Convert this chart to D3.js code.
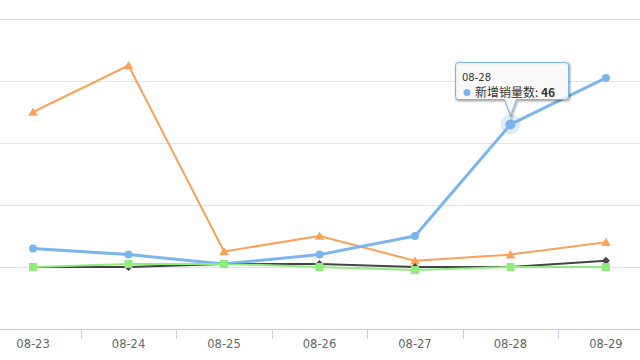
<!DOCTYPE html>
<html>
<head>
<meta charset="utf-8">
<script src="https://cdn.jsdelivr.net/npm/d3@7"></script>
<style>
  html, body { margin: 0; padding: 0; background: #fff; }
  svg { display: block; }
</style>
</head>
<body>
<svg width="640" height="360"></svg>
<script>
const categories = ['08-23', '08-24', '08-25', '08-26', '08-27', '08-28', '08-29'];
const yTicks = [-20, 0, 20, 40, 60, 80];

const seriesNames = ['新增销量数', '系列2', '系列3', '系列4'];
const seriesColors = ['#7cb5ec', '#434348', '#90ed7d', '#f7a35c'];
const blueValues = [6, 4, 1, 4, 10, 46, 61];
const blackValues = [0, 0, 1, 1, 0, 0, 2];
const greenValues = [0, 1, 1, 0, -1, 0, 0];
const orangeValues = [50, 65, 5, 10, 2, 4, 8];

const hoverIndex = 5; // 08-28 on the first series

// highcharts style diamond: square turned 45deg
const squareDiamond = {
  draw(ctx, size) {
    const h = Math.sqrt(size / 2);
    ctx.moveTo(0, -h); ctx.lineTo(h, 0); ctx.lineTo(0, h); ctx.lineTo(-h, 0); ctx.closePath();
  }
};
const seriesSymbols = [d3.symbolCircle, squareDiamond, d3.symbolSquare, d3.symbolTriangle];

const svg = d3.select('svg');

const x = d3.scaleBand().domain(categories).range([-14.7, 653.7]);
const y = d3.scaleLinear().domain([-20, 80]).range([329, 19]);
const cx = c => x(c) + x.bandwidth() / 2;

// grid
svg.append('g').selectAll('line')
  .data(yTicks)
  .enter().append('line')
  .attr('x1', 0).attr('x2', 640)
  .attr('y1', d => Math.round(y(d)) + 0.5)
  .attr('y2', d => Math.round(y(d)) + 0.5)
  .attr('stroke', '#e3e3e3')
  .attr('stroke-width', 1);

// x axis
const xAxis = svg.append('g').attr('transform', 'translate(0,329.5)');
xAxis.append('line')
  .attr('x1', 0).attr('x2', 640)
  .attr('stroke', '#c0d0e0');
xAxis.selectAll('.tick')
  .data(categories.slice(1))
  .enter().append('line')
  .attr('x1', d => Math.round(x(d)) + 0.5)
  .attr('x2', d => Math.round(x(d)) + 0.5)
  .attr('y1', 0).attr('y2', 9)
  .attr('stroke', '#c0d0e0');
xAxis.selectAll('text')
  .data(categories)
  .enter().append('text')
  .attr('x', d => cx(d))
  .attr('y', 18)
  .attr('text-anchor', 'middle')
  .attr('font-family', 'DejaVu Sans, sans-serif')
  .attr('font-size', '11.5px')
  .attr('fill', '#666')
  .text(d => d);

// series
const allSeries = [blueValues, blackValues, greenValues, orangeValues];
const line = d3.line()
  .x((d, i) => cx(categories[i]))
  .y(d => y(d));

const drawOrder = [3, 0, 1, 2];
const sizes = [50, 32, 64, 40];
drawOrder.forEach(s => {
  const g = svg.append('g');
  g.append('path')
    .datum(allSeries[s])
    .attr('d', line)
    .attr('fill', 'none')
    .attr('stroke', seriesColors[s])
    .attr('stroke-width', s === 0 ? 3 : 2)
    .attr('stroke-linejoin', 'round');
  if (s === 0) {
    g.append('circle')
      .attr('cx', cx(categories[hoverIndex]))
      .attr('cy', y(allSeries[0][hoverIndex]))
      .attr('r', 10)
      .attr('fill', seriesColors[0])
      .attr('opacity', 0.25);
  }
  g.selectAll('path.m')
    .data(allSeries[s])
    .enter().append('path')
    .attr('class', 'm')
    .attr('transform', (d, i) => `translate(${cx(categories[i])},${y(d) + (s === 3 ? 1 : 0)})`)
    .attr('d', (d, i) => d3.symbol().type(seriesSymbols[s])
      .size(s === 0 && i === hoverIndex ? 78 : sizes[s])())
    .attr('fill', seriesColors[s]);
});

// tooltip
const px = cx(categories[hoverIndex]);
const py = y(blueValues[hoverIndex]);
const bx = 455.5, by = 62.5, bw = 113, bh = 37, r = 3;
const tip = svg.append('g');
const callout = `M${bx + r},${by} L${bx + bw - r},${by} Q${bx + bw},${by} ${bx + bw},${by + r}
  L${bx + bw},${by + bh - r} Q${bx + bw},${by + bh} ${bx + bw - r},${by + bh}
  L${px + 6},${by + bh} L${px},${py - 9} L${px - 6},${by + bh}
  L${bx + r},${by + bh} Q${bx},${by + bh} ${bx},${by + bh - r}
  L${bx},${by + r} Q${bx},${by} ${bx + r},${by} Z`;
[[5, 0.05], [3, 0.1], [1, 0.15]].forEach(([w, o]) => {
  tip.append('path')
    .attr('d', callout)
    .attr('transform', 'translate(1,1)')
    .attr('fill', 'none')
    .attr('stroke', '#000')
    .attr('stroke-opacity', o)
    .attr('stroke-width', w);
});
tip.append('path')
  .attr('d', callout)
  .attr('fill', 'rgba(249,249,249,0.85)')
  .attr('stroke', seriesColors[0])
  .attr('stroke-width', 1);
tip.append('text')
  .attr('x', 462)
  .attr('y', 81)
  .attr('font-family', 'DejaVu Sans, sans-serif')
  .attr('font-size', '10px')
  .attr('fill', '#333')
  .text(categories[hoverIndex]);
tip.append('circle')
  .attr('cx', 467).attr('cy', 92.5).attr('r', 3.5)
  .attr('fill', seriesColors[0]);
const t2 = tip.append('text')
  .attr('x', 475)
  .attr('y', 97)
  .attr('font-family', 'Noto Sans CJK SC, sans-serif')
  .attr('font-size', '12px')
  .attr('fill', '#333');
t2.append('tspan').text(seriesNames[0] + ': ');
t2.append('tspan').attr('font-weight', 'bold').text(blueValues[hoverIndex]);
</script>
</body>
</html>
